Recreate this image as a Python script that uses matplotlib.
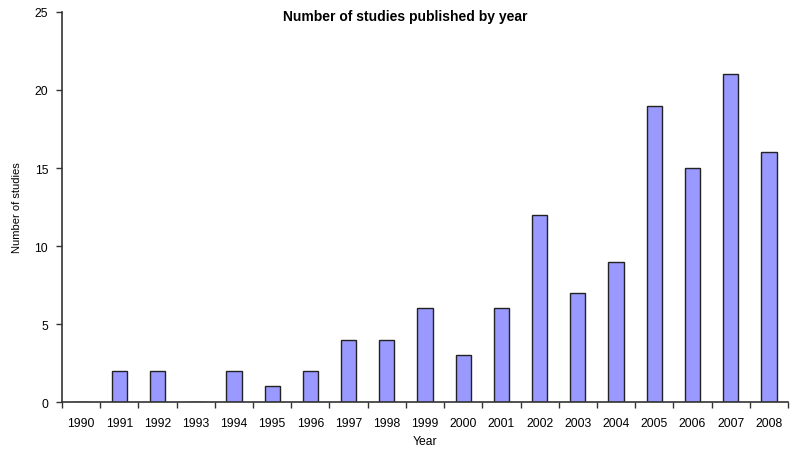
import numpy as np
import matplotlib
matplotlib.use("Agg")
import matplotlib.pyplot as plt

years = ['1990', '1991', '1992', '1993', '1994', '1995', '1996', '1997', '1998', '1999',
         '2000', '2001', '2002', '2003', '2004', '2005', '2006', '2007', '2008']
studies = [0, 2, 2, 0, 2, 1, 2, 4, 4, 6, 3, 6, 12, 7, 9, 19, 15, 21, 16]

plt.rcParams['font.family'] = ['Liberation Sans', 'DejaVu Sans']

fig = plt.figure(figsize=(8, 4.56), dpi=100)
ax = fig.add_axes([0.0775, 0.1162, 0.9075, 0.8553])

x = np.arange(len(years))
ax.bar(x, studies, width=0.4, color='#9999FF', edgecolor='#222222', linewidth=1.0)

ax.set_xlim(-0.5, len(years) - 0.5)
ax.set_ylim(0, 25)
ax.set_yticks([0, 5, 10, 15, 20, 25])
ax.set_xticks(x)
ax.set_xticklabels(years)
ax.set_xticks(np.arange(-0.5, len(years), 1.0), minor=True)
ax.tick_params(axis='x', which='major', length=0, pad=11, labelsize=8.7)
ax.tick_params(axis='x', which='minor', length=4, direction='out', width=1, color='#333333')
ax.tick_params(axis='y', length=4, direction='out', width=1, color='#333333', labelsize=8.7, pad=6)

for s in ['top', 'right']:
    ax.spines[s].set_visible(False)
for s in ['left', 'bottom']:
    ax.spines[s].set_color('#333333')
    ax.spines[s].set_linewidth(1.2)

ax.set_xlabel('Year', fontsize=8.7, labelpad=4)
ax.set_ylabel('Number of studies', fontsize=8, labelpad=9)
fig.text(0.506, 0.963, 'Number of studies published by year', ha='center', va='center',
         fontsize=10, fontweight='bold')

fig.savefig('out.png', dpi=100)
